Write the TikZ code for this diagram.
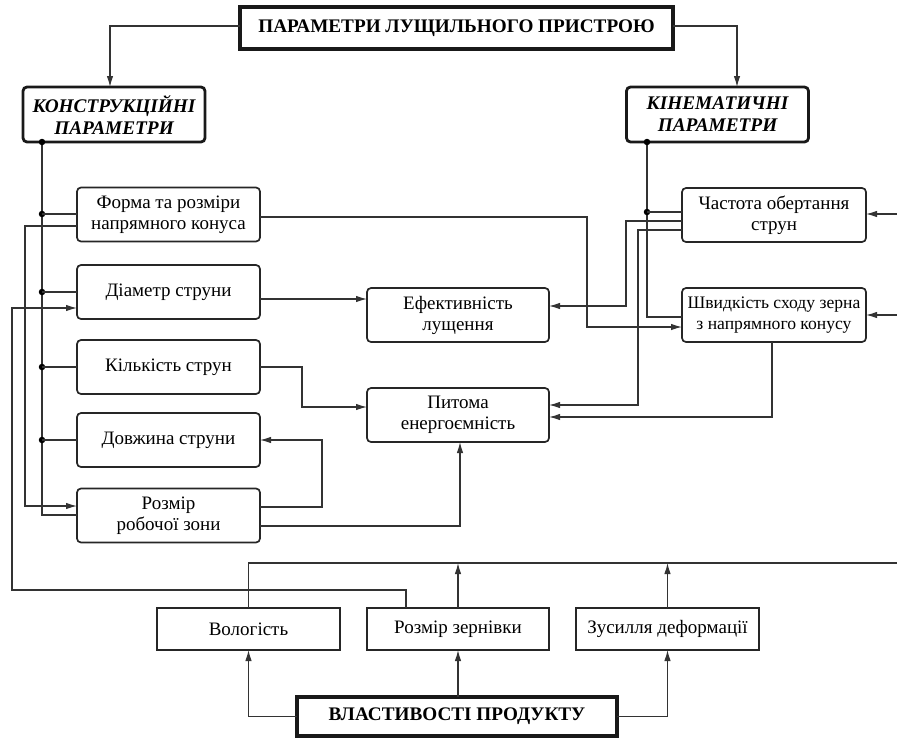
\documentclass[tikz,border=0pt]{standalone}
\usepackage{fontspec}
\setmainfont{Liberation Serif}
\usetikzlibrary{arrows.meta}
\begin{document}
\begin{tikzpicture}[x=1pt,y=-1pt,
  every node/.style={outer sep=0pt, inner sep=2pt, align=center},
  fs/.style={font=\fontsize{19}{21}\selectfont},
  rbox/.style={fs, draw=black!85, rounded corners=4pt, line width=1.7pt, minimum width=183pt, minimum height=54pt},
  hbox/.style={draw=black!90, rounded corners=4pt, line width=2.8pt, minimum width=182pt, minimum height=55pt, font=\fontsize{19.3}{22}\selectfont\bfseries\itshape},
  tbox/.style={draw=black!90, line width=3.2pt, font=\fontsize{19.2}{22}\selectfont\bfseries},
  sbox/.style={fs, draw=black!85, line width=2pt, minimum width=183pt, minimum height=42pt},
  ln/.style={draw=black!80, line width=1.1pt},
  arr/.style={ln, -{Latex[length=11pt,width=6.5pt]}},
  dot/.style={circle, fill=black, inner sep=0pt, minimum size=6.5pt}
]
\useasboundingbox (0,0) rectangle (897,739);

% header boxes
\node[tbox, minimum width=433pt, minimum height=42pt] (top) at (456.5,28) {ПАРАМЕТРИ ЛУЩИЛЬНОГО ПРИСТРОЮ};
\node[hbox] (konst) at (114,114.5) {КОНСТРУКЦІЙНІ\\ПАРАМЕТРИ};
\node[hbox] (kin) at (717.5,114.5) {КІНЕМАТИЧНІ\\ПАРАМЕТРИ};

% left column
\node[rbox] (frm) at (168.5,214.5) {Форма та розміри\\напрямного конуса};
\node[rbox] (diam) at (168.5,292) {Діаметр струни};
\node[rbox] (kilk) at (168.5,367) {Кількість струн};
\node[rbox] (dovzh) at (168.5,440) {Довжина струни};
\node[rbox] (rozm) at (168.5,515.5) {Розмір\\робочої зони};

% middle
\node[rbox, minimum width=182pt] (ef) at (458,315) {Ефективність\\лущення};
\node[rbox, minimum width=182pt] (pyt) at (458,415) {Питома\\енергоємність};

% right column
\node[rbox, minimum width=184pt] (chast) at (774,215) {Частота обертання\\струн};
\node[rbox, minimum width=184pt, inner sep=0pt, font=\fontsize{17.6}{21}\selectfont] (shv) at (774,315) {Швидкість сходу зерна\\з напрямного конусу};

% bottom
\node[sbox] (vol) at (248.5,629) {Вологість};
\node[sbox, minimum width=182pt] (zern) at (458,629) {Розмір зернівки};
\node[sbox] (zus) at (667.5,629) {Зусилля деформації};
\node[tbox, minimum width=320pt, minimum height=39pt] (vlast) at (457,716.5) {ВЛАСТИВОСТІ ПРОДУКТУ};

% top arrows
\draw[arr] (top.west |- 0,26) -| (konst.north -| 110,0);
\draw[arr] (top.east |- 0,26) -| (kin.north -| 737,0);

% left trunk
\coordinate (lt) at (42,142);
\draw[ln] (lt) -- (42,515) -- (rozm.west |- 0,515);
\node[dot] (d0) at (lt) {};
\node[dot] (d1) at (42,214) {};
\node[dot] (d2) at (42,292) {};
\node[dot] (d3) at (42,367) {};
\node[dot] (d4) at (42,440) {};
\draw[ln] (d1.center) -- (frm.west |- d1);
\draw[ln] (d2.center) -- (diam.west |- d2);
\draw[ln] (d3.center) -- (kilk.west |- d3);
\draw[ln] (d4.center) -- (dovzh.west |- d4);

% Форма -> Розмір робочої зони
\draw[arr] (frm.west |- 0,226) -- (25,226) -- (25,506) -- (rozm.west |- 0,506);
% Розмір зернівки -> Діаметр
\draw[arr] (zern.north -| 406,0) -- (406,590) -- (12,590) -- (12,308) -- (diam.west |- 0,308);
% Форма -> Швидкість
\draw[arr] (frm.east |- 0,217) -- (587,217) -- (587,327) -- (shv.west |- 0,327);
% Діаметр -> Ефективність
\draw[arr] (diam.east |- 0,299) -- (ef.west |- 0,299);
% Кількість -> Питома
\draw[arr] (kilk.east) -- (302,367) -- (302,407) -- (pyt.west |- 0,407);
% Розмір -> Довжина
\draw[arr] (rozm.east |- 0,507) -- (322,507) -- (322,440) -- (dovzh.east);
% Розмір -> Питома
\draw[arr] (rozm.east |- 0,526) -- (460,526) -- (pyt.south -| 460,0);

% right trunk
\coordinate (rt) at (647,142);
\draw[ln] (rt) -- (647,317) -- (shv.west |- 0,317);
\node[dot] (e0) at (rt) {};
\node[dot] (e1) at (647,212) {};
\draw[ln] (e1.center) -- (chast.west |- e1);

% Частота -> Ефективність, Питома
\draw[arr] (chast.west |- 0,221) -- (626,221) -- (626,306) -- (ef.east |- 0,306);
\draw[arr] (chast.west |- 0,230) -- (638,230) -- (638,405) -- (pyt.east |- 0,405);
% Швидкість -> Питома
\draw[arr] (shv.south -| 772,0) -- (772,417) -- (pyt.east |- 0,417);

% right edge inputs
\coordinate (r1) at (897,214);
\coordinate (r2) at (897,315);
\draw[arr] (r1) -- (chast.east |- r1);
\draw[arr] (r2) -- (shv.east |- r2);

% product bus
\coordinate (bus) at (897,563);
\draw[ln] (vol.north) -- (vol.north |- bus) -- (bus);
\draw[arr] (zern.north) -- (zern.north |- bus);
\draw[arr] (zus.north) -- (zus.north |- bus);

% product properties
\draw[arr] (vlast.west) -| (vol.south);
\draw[arr] (zern.south |- vlast.north) -- (zern.south);
\draw[arr] (vlast.east) -| (zus.south);
\end{tikzpicture}
\end{document}
